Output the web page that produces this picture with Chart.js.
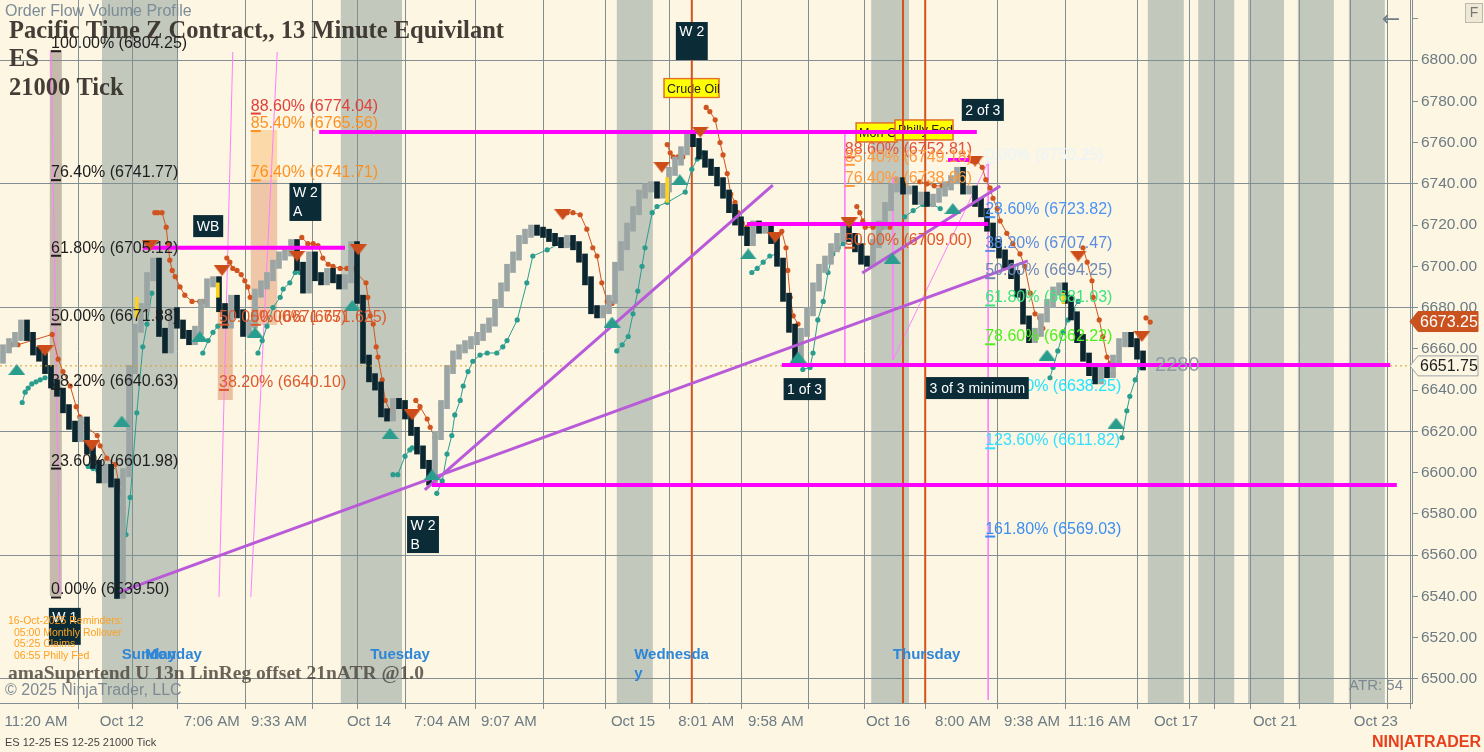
<!DOCTYPE html>
<html lang="en">
<head>
<meta charset="UTF-8">
<title>ES 12-25 21000 Tick</title>
<script src="https://cdn.jsdelivr.net/npm/chart.js@4.4.1/dist/chart.umd.min.js"></script>
<style>
  html, body { margin: 0; padding: 0; background: #fdf6e3; overflow: hidden; }
  #wrap { width: 1484px; height: 752px; }
</style>
</head>
<body>
<div id="wrap"><canvas id="chart" width="1484" height="752"></canvas></div>
<script>
// ---- price bars (one close per 21000-tick bar, open = previous close) ----
const firstOpen = 6655;
const closes = [
  6660,6663,6666,6672,6666,6659,6656,6650,6643,6639,
  6631,6623,6617,6625,6611,6604,6597,6602,6595,6541,
  6600,6650,6670,6680,6695,6702,6668,6660,6678,6672,
  6667,6664,6669,6682,6692,6693,6680,6672,6684,6677,
  6668,6672,6687,6691,6695,6701,6705,6707,6711,6700,
  6689,6705,6695,6693,6697,6694,6691,6694,6710,6684,
  6655,6646,6642,6629,6627,6634,6633,6628,6620,6611,
  6604,6596,6618,6633,6650,6657,6660,6662,6664,6666,
  6670,6673,6682,6690,6699,6705,6713,6716,6718,6717,
  6716,6714,6712,6711,6713,6710,6704,6693,6679,6677,
  6679,6684,6700,6710,6719,6727,6735,6738,6739,6735,
  6738,6746,6751,6756,6763,6760,6754,6750,6746,6741,
  6735,6728,6722,6717,6712,6720,6718,6719,6713,6702,
  6685,6670,6656,6668,6678,6690,6699,6703,6709,6714,
  6718,6714,6709,6703,6702,6711,6720,6729,6738,6741,
  6737,6737,6732,6734,6731,6733,6736,6739,6742,6746,
  6737,6737,6731,6726,6719,6711,6706,6701,6696,6687,
  6674,6665,6668,6675,6682,6688,6690,6684,6676,6665,
  6656,6649,6645,6650,6648,6655,6663,6666,6663,6657,
  6651.75
];
const lastPrice = 6651.75;
const highlightPrice = 6673.25;

// yellow highlighted bars [bar, low, high]
const yellowBars = [[22.3, 6675, 6685], [35.8, 6685, 6692], [110.7, 6731, 6743], [176.7, 6682, 6687]];

// ---- supertrend (bar, price) segments ----
const stDown = [
  [[1.5,6662],[2.5,6662],[8.2,6667],[9.2,6655],[10,6649],[11.2,6642],[12.2,6632],[12.8,6627],[14,6622],[15.7,6618],[16.2,6613],[17.3,6607],[18.7,6604],[19.3,6595],[20,6583]],
  [[25.3,6726],[25.8,6726],[26.5,6726],[27.2,6719],[27.5,6711],[27.8,6703],[28.2,6698],[28.7,6695],[29.5,6690],[30.3,6686],[31.5,6683],[32.8,6683],[33.3,6683]],
  [[37.3,6704],[37.8,6702],[38.3,6699],[39,6698],[39.7,6696],[40.3,6693],[40.8,6690],[41.2,6685]],
  [[49.8,6714],[50.8,6711],[51.7,6711],[52.5,6710],[53.3,6704],[54.2,6701],[55,6700],[56.2,6699],[57.3,6699],[58.2,6699],[60.5,6692],[60.8,6685],[61.2,6676],[61.7,6672],[62.2,6661],[62.5,6656],[63.2,6645],[63.7,6635],[64.5,6630]],
  [[68.8,6635],[69.5,6632],[70.7,6626],[71.2,6622],[72,6617]],
  [[94,6726],[95,6726],[96.2,6725],[97.3,6718],[98.3,6709],[99,6705],[99.8,6692],[100.7,6683],[101.5,6682]],
  [[110.7,6759],[111.2,6755],[111.7,6753],[112.5,6753],[113.3,6753]],
  [[117.2,6777],[117.8,6775],[118.7,6771],[119.5,6760],[120,6754],[120.7,6745],[121.3,6735],[122,6731],[122.5,6726],[123.2,6721],[124,6719]],
  [[129.8,6717],[130.5,6709],[130.8,6698],[131.2,6685],[131.7,6676],[132.5,6672]],
  [[142.3,6729],[142.8,6726],[143.3,6722],[143.7,6719],[145,6719],[146.5,6719],[147.8,6719]],
  [[152.8,6741],[154,6740],[155.2,6739],[156.5,6739],[157.5,6740]],
  [[161.5,6751],[162.3,6751],[163.2,6748],[163.8,6742],[164.5,6738],[165,6733],[165.7,6728],[166.2,6722],[167.3,6716],[168.3,6711],[169.5,6706],[170.3,6700],[171.2,6687],[172,6677],[172.8,6675],[173.3,6670]],
  [[180,6709],[180.7,6702],[181.5,6693],[181.7,6685],[182.7,6674],[183.3,6666],[184,6656],[184.5,6653],[185,6648]],
  [[190.5,6675],[191.2,6673]]
];
const stUp = [
  [[3.2,6634],[3.7,6639],[4.2,6641],[4.8,6643],[5.5,6644],[6.2,6645],[7,6646]],
  [[14.2,6603],[15,6602],[15.8,6601]],
  [[20.5,6570],[21.2,6588],[22.3,6629],[23.3,6661],[24,6672],[24.8,6687]],
  [[33.3,6658],[34.2,6664],[35,6668],[35.8,6671]],
  [[42.5,6658],[43.2,6664],[44,6671],[45,6680],[46.2,6685],[46.7,6689],[47.8,6692],[48.7,6697],[49.5,6697]],
  [[65,6599],[65.8,6599],[67,6608],[67.8,6611],[68.2,6612]],
  [[72.3,6590],[73.2,6596],[74,6609],[74.8,6618],[75.3,6628],[76.2,6635],[76.7,6642],[77.5,6649],[78.3,6654],[79.5,6657],[80.7,6658],[82.3,6658],[83.3,6661],[84,6664],[85.7,6674],[87.3,6692],[88.3,6705],[90.7,6708],[92.8,6711],[94.2,6711]],
  [[102.3,6659],[103.2,6662],[104.2,6666],[105,6677],[105.8,6688],[106.5,6700],[107,6709],[108.2,6726],[109,6729],[110.7,6731],[113.7,6736],[114.8,6747],[115.7,6752],[116.7,6755]],
  [[124.8,6697],[125.7,6699],[126.7,6702],[127.8,6705],[129,6706]],
  [[133.3,6650],[134.5,6651],[135,6658],[135.8,6674],[136.7,6683],[137.5,6697],[138.3,6706],[139.2,6709],[140,6711]],
  [[150.3,6724],[151.7,6727],[153.3,6730],[155,6730],[156.2,6728]],
  [[174.5,6646],[175,6651],[175.8,6659],[176.7,6668],[177.5,6674],[178.3,6679],[179.2,6683]],
  [[186.5,6617],[187.3,6630],[187.8,6637],[188.7,6645],[189.5,6651]]
];
const sellSignals = [[7,6659],[14.8,6613],[24.5,6710],[36.5,6698],[49,6705],[59.2,6708],[68.2,6628],[93.3,6725],[109.8,6748],[116.2,6765],[128.7,6714],[141,6721],[162,6751],[179.2,6705],[189.8,6666]];
const buySignals = [[2.3,6650],[19.8,6625],[32.8,6666],[42,6668],[58.2,6681],[64.5,6619],[71.5,6599],[101.5,6673],[112.8,6742],[124.2,6706],[132.5,6656],[148.2,6704],[158.3,6728],[174,6657],[185.5,6624]];

// ---- drawn objects ----
const magentaLines = [[23.3,57,6709],[52.7,162.3,6765.1],[124,164.2,6720.5],[129.8,231.2,6652.2],[71.5,232.3,6594],[157.5,161.2,6751.5]];
const trendLines = [[19.5,6542.2,170.8,6702.6],[70.3,6591.6,128.3,6739.4],[143.2,6696.8,166.2,6738.9]];
const pinkLines = [[8,6804.8,9.5,6541.2],[38.3,6803.9,36,6539.7],[45.7,6803.9,41.3,6539.7],[140.3,6764.6,140.3,6652.2],[148.3,6743.3,148.3,6654.6],[148.3,6654.6,164.2,6750.6],[164.2,6750.6,164.2,6489.8]];
const eventLines = [114.8, 150, 153.7];

// ---- background zones ----
const sessionBands = [[16.5,29],[56.3,66.5],[102.3,108.3],[144.7,151],[190.8,196.8],[199.2,205.2],[207.5,213.5],[215.8,221.8],[224.3,230.3]];
const zoneRects = [
  [7.8, 9.8, 6804.8, 6540.2, '#c5baab'],
  [41.3, 45.7, 6766.1, 6741.8, '#fcd9a9'],
  [41.3, 45.7, 6741.8, 6671.6, '#efc6a7'],
  [35.8, 38.3, 6678.8, 6635.2, '#ecbfa3']
];

// ---- fibonacci labels [text, price, bar, colour] ----
const fibLabels = [
  ['100.00% (6804.25)', 6804.25, 8, '#1e1e1e'],
  ['76.40% (6741.77)', 6741.77, 8, '#1e1e1e'],
  ['61.80% (6705.12)', 6705.12, 8, '#1e1e1e'],
  ['50.00% (6671.88)', 6671.88, 8, '#1e1e1e'],
  ['38.20% (6640.63)', 6640.63, 8, '#1e1e1e'],
  ['23.60% (6601.98)', 6601.98, 8, '#1e1e1e'],
  ['0.00% (6539.50)', 6539.50, 8, '#1e1e1e'],
  ['88.60% (6774.04)', 6774.04, 41.3, '#e0423a'],
  ['85.40% (6765.56)', 6765.56, 41.3, '#ff8f1f'],
  ['76.40% (6741.71)', 6741.71, 41.3, '#ff8f1f'],
  ['50.00% (6671.625)', 6671.625, 41.3, '#dd5a2c'],
  ['50.00% (6671.75)', 6671.75, 36, '#dd5a2c'],
  ['38.20% (6640.10)', 6640.10, 36, '#dd5a2c'],
  ['88.60% (6752.81)', 6752.81, 140.3, '#e0503c'],
  ['85.40% (6749.18)', 6749.18, 140.3, '#ff9a3c'],
  ['76.40% (6738.96)', 6738.96, 140.3, '#ff9a3c'],
  ['50.00% (6709.00)', 6709.00, 140.3, '#dd5a2c'],
  ['0.00% (6750.25)', 6750.25, 163.7, '#eaf4fb'],
  ['23.60% (6723.82)', 6723.82, 163.7, '#4b93f5'],
  ['38.20% (6707.47)', 6707.47, 163.7, '#5a8de0'],
  ['50.00% (6694.25)', 6694.25, 163.7, '#6f87b5'],
  ['61.80% (6681.03)', 6681.03, 163.7, '#3fe37f'],
  ['78.60% (6662.22)', 6662.22, 163.7, '#4ef01c'],
  ['100.00% (6638.25)', 6638.25, 163.7, '#22e4ff'],
  ['123.60% (6611.82)', 6611.82, 163.7, '#33e0ff'],
  ['161.80% (6569.03)', 6569.03, 163.7, '#3c8ff2']
];
// dark wave tags [lines, bar, price (centre), width, height]
const waveTags = [
  [['WB'], 34.2, 6719.5, 30, 22],
  [['W 2', 'A'], 50.4, 6731.2, 31, 38],
  [['W 2', ''], 114.8, 6809.2, 30, 38],
  [['2 of 3'], 163.3, 6775.8, 40, 22],
  [['1 of 3'], 133.6, 6640.5, 41, 22],
  [['3 of 3 minimum'], 162.4, 6641, 101, 22],
  [['W 2', 'B'], 70, 6570, 30, 37],
  [['W 1', ''], 10.3, 6525.5, 30, 37]
];
const newsTags = [['Crude Oil', 114.75, 6786.4, 55, 19], ['Mon Oil', 145.6, 6764.9, 41, 19], ['Philly Fed', 153.5, 6766.1, 58, 20]];
const dayLabels = [['Sunday', 19.8, 6511.6], ['Monday', 23.7, 6511.6], ['Tuesday', 61.2, 6511.6], ['Wednesda', 105.2, 6511.6], ['y', 105.2, 6502.4], ['Thursday', 148.3, 6511.6]];

// ---- axes ----
const yTicks = [6500,6520,6540,6560,6580,6600,6620,6640,6660,6680,6700,6720,6740,6760,6780,6800,6820];
const xTickPos = [5.5,19.8,23.3,34.8,46,57.3,61,73.2,84.3,95.7,105,117.2,128.8,139.8,147.5,160,171.5,182.7,195.5,200,203.8,212,220.3,228.8,232.7];
const xTickLabels = ['11:20 AM','Oct 12','','7:06 AM','9:33 AM','','Oct 14','7:04 AM','9:07 AM','','Oct 15','8:01 AM','9:58 AM','','Oct 16','8:00 AM','9:38 AM','11:16 AM','Oct 17','','','Oct 21','','Oct 23',''];
const X_MIN = -0.5, X_MAX = 234.83, Y_MIN = 6488.36, Y_MAX = 6829.08;
const WICK = 2;  // visual wick padding on each bar, in points

// ---- helpers ----
function segData(list) {
  const out = [];
  list.forEach((s, k) => {
    if (k) out.push({ x: s[0][0], y: null });
    s.forEach(p => out.push({ x: p[0], y: p[1] }));
  });
  return out;
}
const opens = closes.map((c, i) => i === 0 ? firstOpen : closes[i - 1]);
const barData = closes.map((c, i) => ({ x: i, y: [Math.min(opens[i], c) - WICK, Math.max(opens[i], c) + WICK] }));
const barColors = closes.map((c, i) => c < opens[i] ? '#0c2630' : '#9ba5a4');

// flat signal triangles like NinjaTrader's arrows
function flatTriangle(color, down) {
  const c = document.createElement('canvas');
  c.width = 17; c.height = 11;
  const g = c.getContext('2d');
  g.fillStyle = color;
  g.beginPath();
  if (down) { g.moveTo(0, 0); g.lineTo(17, 0); g.lineTo(8.5, 11); }
  else { g.moveTo(8.5, 0); g.lineTo(17, 11); g.lineTo(0, 11); }
  g.closePath();
  g.fill();
  return c;
}

const GRID = '#818e92';
const LABEL = '#6c7b84';
Chart.defaults.font.family = 'Liberation Sans, Arial, sans-serif';

function noPad(s) { s.paddingLeft = 0; s.paddingRight = 0; s.paddingTop = 0; s.paddingBottom = 0; }

function drawTag(ctx, cx, cy, w, h, lines, bg, fg, font, stroke) {
  ctx.font = font;
  const tw = Math.max(...lines.map(t => ctx.measureText(t).width)) + 7;
  w = Math.max(w, tw);
  ctx.fillStyle = bg;
  ctx.fillRect(cx - w / 2, cy - h / 2, w, h);
  if (stroke) { ctx.strokeStyle = stroke; ctx.lineWidth = 1.5; ctx.strokeRect(cx - w / 2, cy - h / 2, w, h); }
  ctx.fillStyle = fg;
  ctx.textBaseline = 'middle';
  ctx.textAlign = 'left';
  const lh = h / lines.length;
  lines.forEach((t, i) => ctx.fillText(t, cx - w / 2 + 3.5, cy - h / 2 + lh * (i + 0.5) + 1));
}

const backdrop = {
  id: 'backdrop',
  beforeDraw(chart) {
    const { ctx, chartArea: a, scales: { x, y } } = chart;
    ctx.save();
    ctx.fillStyle = '#fdf6e3';
    ctx.fillRect(0, 0, chart.width, chart.height);
    ctx.fillStyle = '#c2c8bc';
    sessionBands.forEach(([s, e]) => {
      const x0 = x.getPixelForValue(s), x1 = x.getPixelForValue(e);
      ctx.fillRect(x0, a.top, x1 - x0, a.bottom - a.top);
    });
    zoneRects.forEach(([s, e, hi, lo, col]) => {
      const x0 = x.getPixelForValue(s), x1 = x.getPixelForValue(e);
      const y0 = y.getPixelForValue(hi), y1 = y.getPixelForValue(lo);
      ctx.fillStyle = col;
      ctx.fillRect(x0, y0, x1 - x0, y1 - y0);
    });
    ctx.restore();
  },
  beforeDatasetsDraw(chart) {
    const { ctx, scales: { x, y } } = chart;
    ctx.save();
    newsTags.forEach(([t, b, p, w, h]) => {
      const cx = x.getPixelForValue(b), cy = y.getPixelForValue(p);
      ctx.save();
      ctx.beginPath();
      ctx.rect(cx - w / 2 - 1, cy - h / 2 - 1, w + 2, h + 2);
      ctx.clip();
      ctx.fillStyle = '#ffff00';
      ctx.fillRect(cx - w / 2, cy - h / 2, w, h);
      ctx.strokeStyle = '#e0702a';
      ctx.lineWidth = 1.5;
      ctx.strokeRect(cx - w / 2, cy - h / 2, w, h);
      ctx.font = '12.5px Liberation Sans';
      ctx.fillStyle = '#222';
      ctx.textBaseline = 'middle';
      ctx.textAlign = 'left';
      ctx.fillText(t, cx - w / 2 + 3, cy + 1);
      ctx.restore();
    });
    ctx.restore();
  }
};

const overlay = {
  id: 'overlay',
  afterDatasetsDraw(chart) {
    const { ctx, scales: { x, y } } = chart;
    ctx.save();
    // fibonacci level labels
    ctx.font = '16px Liberation Sans';
    ctx.textAlign = 'left';
    ctx.textBaseline = 'alphabetic';
    fibLabels.forEach(([t, p, b, col]) => {
      const px = x.getPixelForValue(b), py = y.getPixelForValue(p);
      ctx.fillStyle = col;
      ctx.fillText(t, px, py - 3);
      ctx.fillRect(px, py - 1, 10, 2);
    });
    // day names
    ctx.font = 'bold 15px Liberation Sans';
    ctx.fillStyle = '#2e86d8';
    ctx.textBaseline = 'middle';
    dayLabels.forEach(([t, b, p]) => ctx.fillText(t, x.getPixelForValue(b), y.getPixelForValue(p)));
    // wave tags
    waveTags.forEach(([lines, b, p, w, h]) => {
      drawTag(ctx, x.getPixelForValue(b), y.getPixelForValue(p), w, h, lines, '#0b2b36', '#ffffff', '14px Liberation Sans');
    });
    // volume figure near last bar
    ctx.font = '20px Liberation Sans';
    ctx.fillStyle = '#8b9aa3';
    ctx.textBaseline = 'middle';
    ctx.textAlign = 'left';
    ctx.fillText('2280', x.getPixelForValue(192), y.getPixelForValue(6652));
    ctx.restore();
  },
  afterDraw(chart) {
    const { ctx, chartArea: a, scales: { y } } = chart;
    ctx.save();
    // headline text
    ctx.textAlign = 'left';
    ctx.textBaseline = 'middle';
    ctx.font = '16px Liberation Sans';
    ctx.fillStyle = '#7c8c98';
    ctx.fillText('Order Flow Volume Profile', 5, 12);
    ctx.textBaseline = 'alphabetic';
    ctx.font = 'bold 24.5px Liberation Serif';
    ctx.fillStyle = 'rgba(52,46,40,0.92)';
    ctx.fillText('Pacific Time Z Contract,, 13 Minute Equivilant', 9, 38);
    ctx.fillText('ES', 9, 66);
    ctx.fillText('21000 Tick', 9, 95);
    // reminders
    ctx.font = '10.5px Liberation Sans';
    ctx.fillStyle = '#ffa020';
    ctx.textBaseline = 'middle';
    ctx.fillText('16-Oct-2025 Reminders:', 8, 621);
    ctx.fillText('05:00 Monthly Rollover', 14, 633);
    ctx.fillText('05:25 Claims', 14, 644);
    ctx.fillText('06:55 Philly Fed', 14, 656);
    // indicator caption and copyright
    ctx.textBaseline = 'alphabetic';
    ctx.font = 'bold 19.5px Liberation Serif';
    ctx.fillStyle = 'rgba(80,74,66,0.85)';
    ctx.fillText('amaSupertend U 13n LinReg offset 21nATR @1.0', 8, 679);
    ctx.font = '16px Liberation Sans';
    ctx.fillStyle = '#7d8a93';
    ctx.fillText('\u00a9 2025 NinjaTrader, LLC', 5, 695);
    ctx.textAlign = 'right';
    ctx.font = '15px Liberation Sans';
    ctx.fillText('ATR: 54', 1403, 690);
    // bottom strip
    ctx.textAlign = 'left';
    ctx.font = '11px Liberation Sans';
    ctx.fillStyle = '#444';
    ctx.fillText('ES 12-25 ES 12-25 21000 Tick', 5, 746);
    ctx.textAlign = 'right';
    ctx.font = 'bold 16px Liberation Sans';
    ctx.fillStyle = '#e8401c';
    ctx.fillText('NIN|ATRADER', 1481, 747);
    // top-right controls
    ctx.textAlign = 'center';
    ctx.fillStyle = '#efe8d5';
    ctx.fillRect(1465, 3, 17, 19);
    ctx.strokeStyle = '#b9b9b0';
    ctx.lineWidth = 1;
    ctx.strokeRect(1465.5, 3.5, 17, 19);
    ctx.font = '14px Liberation Sans';
    ctx.fillStyle = '#777';
    ctx.textBaseline = 'middle';
    ctx.fillText('F', 1474, 13);
    ctx.font = '22px DejaVu Sans';
    ctx.fillStyle = '#6f7f88';
    ctx.fillText('\u2190', 1391, 20);
    // price markers on the axis
    const boxes = [[highlightPrice, '#c9521f', '#ffffff', '#c9521f'], [lastPrice, '#fdf6e3', '#1e1e1e', '#9aa5a8']];
    boxes.forEach(([p, bg, fg, st]) => {
      const cy = y.getPixelForValue(p);
      const x0 = a.right - 2, x1 = a.right + 66;
      ctx.beginPath();
      ctx.moveTo(x0, cy);
      ctx.lineTo(x0 + 8, cy - 10);
      ctx.lineTo(x1, cy - 10);
      ctx.lineTo(x1, cy + 10);
      ctx.lineTo(x0 + 8, cy + 10);
      ctx.closePath();
      ctx.fillStyle = bg;
      ctx.fill();
      ctx.strokeStyle = st;
      ctx.stroke();
      ctx.fillStyle = fg;
      ctx.font = '16px Liberation Sans';
      ctx.textAlign = 'left';
      ctx.textBaseline = 'middle';
      ctx.fillText(p.toFixed(2), a.right + 8, cy + 1);
    });
    ctx.restore();
  }
};

const lineSet = (label, data, color, width, extra) => Object.assign({
  type: 'line', label, data, borderColor: color, backgroundColor: color,
  borderWidth: width, pointRadius: 0, spanGaps: false, tension: 0
}, extra || {});

const datasets = [
  lineSet('pink', segData(pinkLines.map(l => [[l[0], l[1]], [l[2], l[3]]])), '#ff80ff', 1, { order: 70 }),
  lineSet('events', segData(eventLines.map(v => [[v, Y_MIN], [v, Y_MAX]])), '#d2541e', 2, { order: 65 }),
  lineSet('stDown', segData(stDown), '#d0541f', 1, { order: 50, pointRadius: 2.6, pointBackgroundColor: '#d0541f', pointBorderWidth: 0 }),
  lineSet('stUp', segData(stUp), '#2a9d8f', 1, { order: 50, pointRadius: 2.6, pointBackgroundColor: '#2a9d8f', pointBorderWidth: 0 }),
  {
    type: 'bar', label: 'ES', data: barData, backgroundColor: barColors,
    barThickness: 5, minBarLength: 3, grouped: false, order: 40
  },
  {
    type: 'bar', label: 'volume', data: yellowBars.map(b => ({ x: b[0], y: [b[1], b[2]] })),
    backgroundColor: '#ffd21a', barThickness: 3, grouped: false, order: 38
  },
  lineSet('last', [{ x: X_MIN, y: lastPrice }, { x: X_MAX, y: lastPrice }], '#d4a020', 1, { order: 36, borderDash: [2, 3] }),
  lineSet('levels', segData(magentaLines.map(l => [[l[0], l[2]], [l[1], l[2]]])), '#ff00ff', 4, { order: 30 }),
  lineSet('trend', segData(trendLines.map(l => [[l[0], l[1]], [l[2], l[3]]])), '#b95ad9', 3, { order: 30 }),
  lineSet('sell', sellSignals.map(p => ({ x: p[0], y: p[1] })), '#cc4d1a', 0, {
    order: 20, showLine: false, pointStyle: flatTriangle('#cc4d1a', true), pointRadius: 8
  }),
  lineSet('buy', buySignals.map(p => ({ x: p[0], y: p[1] })), '#2a9d8f', 0, {
    order: 20, showLine: false, pointStyle: flatTriangle('#2a9d8f', false), pointRadius: 8
  })
];

new Chart(document.getElementById('chart').getContext('2d'), {
  type: 'bar',
  data: { datasets },
  options: {
    responsive: false,
    animation: false,
    layout: { padding: 0, autoPadding: false },
    plugins: { legend: { display: false }, tooltip: { enabled: false } },
    scales: {
      x: {
        type: 'linear', min: X_MIN, max: X_MAX, offset: false,
        afterBuildTicks: s => { s.ticks = xTickPos.map(v => ({ value: v })); },
        afterFit: s => { s.height = 49; noPad(s); },
        grid: { color: GRID, tickColor: GRID, tickLength: 6, lineWidth: 1 },
        border: { color: GRID },
        ticks: {
          autoSkip: false, maxRotation: 0, padding: 4, color: LABEL,
          font: { size: 15 },
          callback: (v, i) => xTickLabels[i]
        }
      },
      y: {
        position: 'right', min: Y_MIN, max: Y_MAX,
        afterBuildTicks: s => { s.ticks = yTicks.map(v => ({ value: v })); },
        afterFit: s => { s.width = 72; noPad(s); },
        grid: {
          color: c => (c.tick && (c.tick.value - 6500) % 60 === 0) ? GRID : 'rgba(0,0,0,0)',
          tickColor: GRID, tickLength: 6
        },
        border: { color: GRID },
        ticks: {
          padding: 3, color: LABEL, font: { size: 15.5 },
          callback: v => v === 6820 ? '' : Number(v).toFixed(2)
        }
      }
    }
  },
  plugins: [backdrop, overlay]
});
</script>
</body>
</html>
